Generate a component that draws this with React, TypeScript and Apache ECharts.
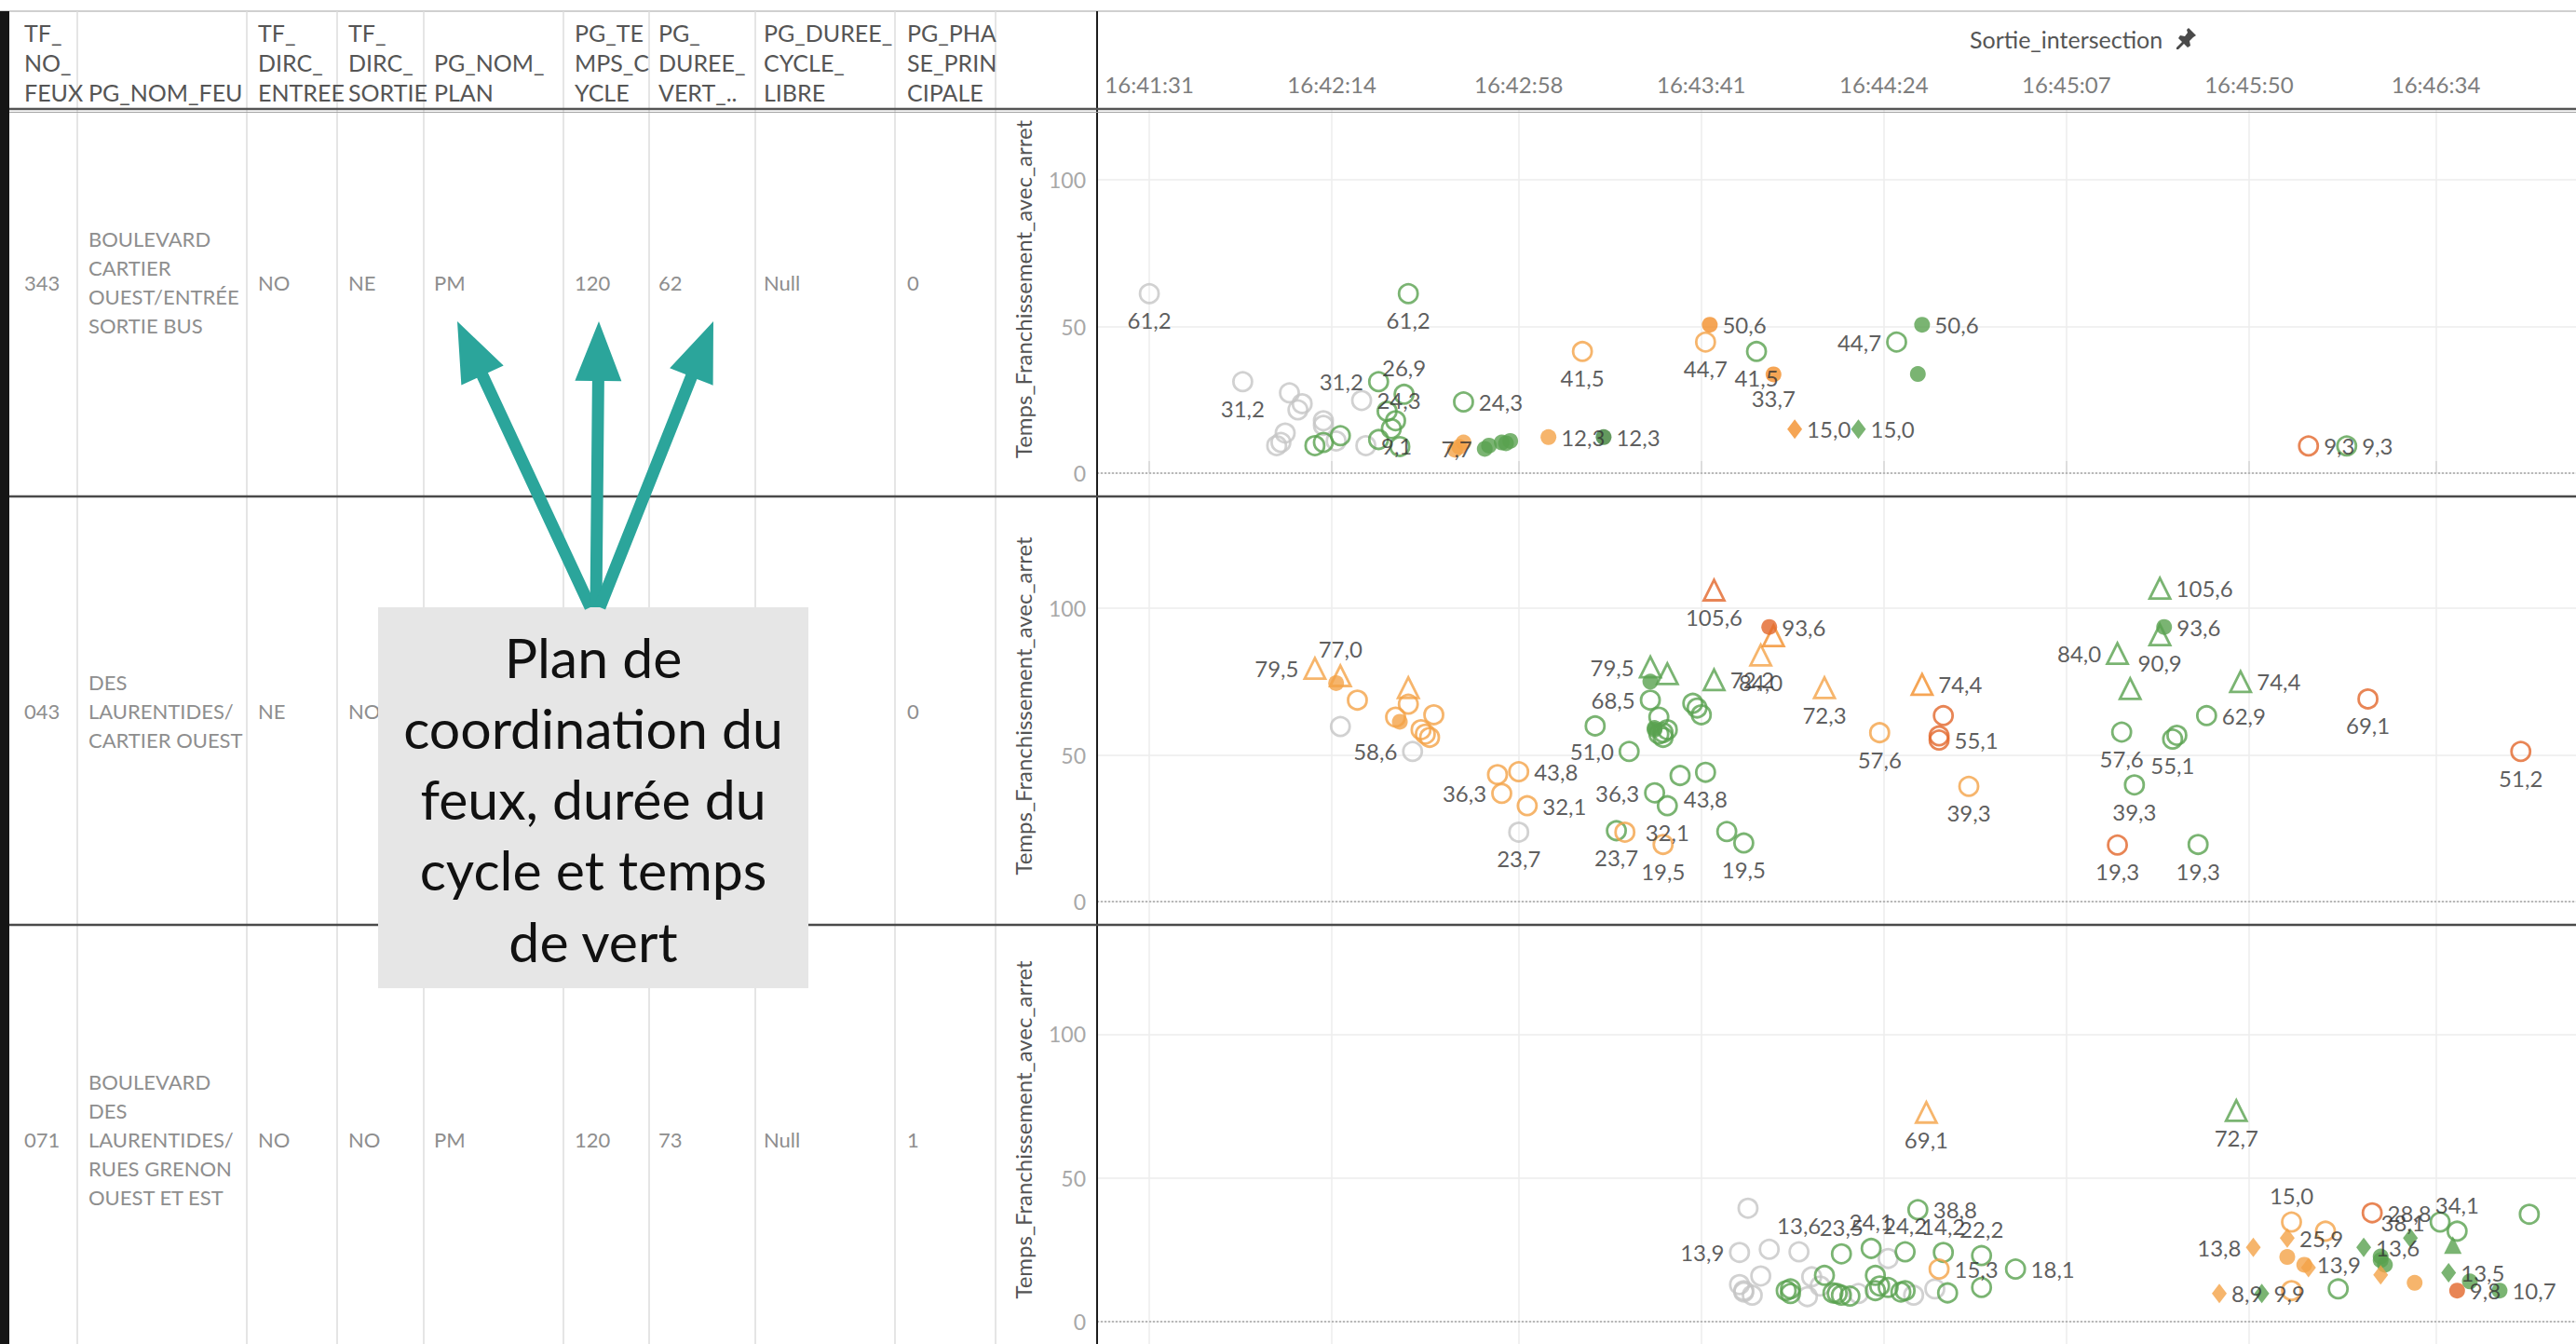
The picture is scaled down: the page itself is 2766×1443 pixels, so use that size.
import React, { useEffect, useRef } from "react";
import * as echarts from "echarts";

// ---------------- DATA ----------------
const X_TICKS = ["16:41:31", "16:42:14", "16:42:58", "16:43:41", "16:44:24", "16:45:07", "16:45:50", "16:46:34"];
const Y_TICKS = [0, 50, 100];
const X_NAME = "Sortie_intersection";
const Y_NAME = "Temps_Franchissement_avec_arret";

const HEADERS = [
  ["TF_", "NO_", "FEUX"],
  ["PG_NOM_FEU"],
  ["TF_", "DIRC_", "ENTREE"],
  ["TF_", "DIRC_", "SORTIE"],
  ["PG_NOM_", "PLAN"],
  ["PG_TE", "MPS_C", "YCLE"],
  ["PG_", "DUREE_", "VERT_.."],
  ["PG_DUREE_", "CYCLE_", "LIBRE"],
  ["PG_PHA", "SE_PRIN", "CIPALE"],
];
const TF_NO_FEUX = ["343", "043", "071"];
const PG_NOM_FEU = [
  ["BOULEVARD", "CARTIER", "OUEST/ENTRÉE", "SORTIE BUS"],
  ["DES", "LAURENTIDES/", "CARTIER OUEST"],
  ["BOULEVARD", "DES", "LAURENTIDES/", "RUES GRENON", "OUEST ET EST"],
];
const TF_DIRC_ENTREE = ["NO", "NE", "NO"];
const TF_DIRC_SORTIE = ["NE", "NO", "NO"];
const PG_NOM_PLAN = ["PM", "", "PM"];
const PG_TEMPS_CYCLE = ["120", "", "120"];
const PG_DUREE_VERT = ["62", "", "73"];
const PG_DUREE_CYCLE_LIBRE = ["Null", "", "Null"];
const PG_PHASE_PRINCIPALE = ["0", "0", "1"];

const NOTE_LINES = ["Plan de", "coordination du", "feux, durée du", "cycle et temps", "de vert"];

type Pt = [string, number, string?, string?];

// Row 1 : 343
const R1_GRAY_O: Pt[] = [
  ["16:41:31", 61.2, "61,2", "b"], ["16:41:53", 31.2, "31,2", "b"], ["16:42:04", 27.4], ["16:42:07", 23.7],
  ["16:42:06", 21.6], ["16:42:12", 17.9], ["16:42:12", 16.3], ["16:42:03", 13.7], ["16:42:02", 10.5],
  ["16:42:01", 9.4], ["16:42:15", 11.0], ["16:42:21", 24.8, "24,3", "r"], ["16:42:22", 9.4, "9,1", "r"],
];
const R1_GREEN_O: Pt[] = [
  ["16:42:32", 61.2, "61,2", "b"], ["16:42:25", 31.2, "31,2", "l"], ["16:42:31", 26.9, "26,9", "t"],
  ["16:42:27", 21.1], ["16:42:29", 17.9], ["16:42:28", 15.2], ["16:42:25", 11.5], ["16:42:30", 9.1],
  ["16:42:10", 9.4], ["16:42:12", 10.5], ["16:42:16", 12.8], ["16:42:45", 24.3, "24,3", "r"],
  ["16:43:54", 41.5, "41,5", "b"], ["16:44:27", 44.7, "44,7", "l"], ["16:46:13", 9.3, "9,3", "r"],
];
const R1_GREEN_F: Pt[] = [
  ["16:42:50", 8.3, "7,7", "l"], ["16:42:51", 9.4], ["16:42:54", 10.5], ["16:42:56", 11.0], ["16:42:55", 10.2],
  ["16:44:33", 50.6, "50,6", "r"], ["16:44:32", 33.8],
];
const R1_GREEN_DK_F: Pt[] = [["16:43:18", 12.3, "12,3", "r"]];
const R1_GREEN_DIA: Pt[] = [["16:44:18", 15.0, "15,0", "r"]];
const R1_LORANGE_O: Pt[] = [["16:43:13", 41.5, "41,5", "b"], ["16:43:42", 44.7, "44,7", "b"]];
const R1_LORANGE_F: Pt[] = [["16:42:44", 9.0], ["16:42:45", 10.5], ["16:42:43", 8.0], ["16:43:05", 12.3, "12,3", "r"]];
const R1_ORANGE_F: Pt[] = [["16:43:43", 50.6, "50,6", "r"], ["16:43:58", 33.7, "33,7", "b"]];
const R1_ORANGE_DIA: Pt[] = [["16:44:03", 15.0, "15,0", "r"]];
const R1_DORANGE_O: Pt[] = [["16:46:04", 9.3, "9,3", "r"]];

// Row 2 : 043
const R2_GRAY_O: Pt[] = [["16:42:16", 59.7], ["16:42:33", 51.2, "58,6", "l"], ["16:42:58", 23.7, "23,7", "b"]];
const R2_LORANGE_TRI_O: Pt[] = [
  ["16:42:10", 79.5, "79,5", "l"], ["16:42:16", 77.0, "77,0", "t"], ["16:42:32", 72.9],
  ["16:43:55", 84.0, "84,0", "b"], ["16:44:10", 72.9, "72,3", "b"],
];
const R2_ORANGE_TRI_O: Pt[] = [["16:43:58", 90.6], ["16:44:33", 74.0, "74,4", "r"]];
const R2_DORANGE_TRI_O: Pt[] = [["16:43:44", 106.2, "105,6", "b"]];
const R2_LORANGE_F: Pt[] = [["16:42:15", 74.5], ["16:42:30", 61.3]];
const R2_LORANGE_O: Pt[] = [
  ["16:42:20", 68.7], ["16:42:32", 67.3], ["16:42:29", 62.9], ["16:42:38", 63.7], ["16:42:35", 58.6],
  ["16:42:36", 57.1], ["16:42:37", 56.0], ["16:42:53", 43.3], ["16:42:58", 44.3, "43,8", "r"],
  ["16:42:54", 36.9, "36,3", "l"], ["16:43:00", 32.7, "32,1", "r"], ["16:43:23", 23.7],
  ["16:43:32", 19.5, "19,5", "b"], ["16:44:23", 57.6, "57,6", "b"], ["16:44:44", 39.3, "39,3", "b"],
];
const R2_DORANGE_O: Pt[] = [
  ["16:44:38", 63.4], ["16:44:37", 56.5], ["16:44:37", 55.1, "55,1", "r"], ["16:45:19", 19.3, "19,3", "b"],
  ["16:46:18", 69.1, "69,1", "b"], ["16:46:54", 51.2, "51,2", "b"],
];
const R2_DORANGE_F: Pt[] = [["16:43:57", 93.6, "93,6", "r"]];
const R2_GREEN_TRI_O: Pt[] = [
  ["16:43:29", 80.0, "79,5", "l"], ["16:43:33", 77.7], ["16:43:44", 75.6, "72,2", "r"],
  ["16:45:29", 106.8, "105,6", "r"], ["16:45:29", 90.9, "90,9", "b"], ["16:45:19", 84.6, "84,0", "l"],
  ["16:45:22", 72.6], ["16:45:48", 75.0, "74,4", "r"],
];
const R2_GREEN_F: Pt[] = [["16:43:29", 75.0], ["16:43:30", 59.2], ["16:43:30", 58.6], ["16:45:30", 93.6, "93,6", "r"]];
const R2_GREEN_O: Pt[] = [
  ["16:43:16", 59.9], ["16:43:24", 51.2, "51,0", "l"], ["16:43:29", 68.7, "68,5", "l"], ["16:43:31", 62.9],
  ["16:43:32", 57.6], ["16:43:33", 58.6], ["16:43:32", 56.0], ["16:43:31", 57.1], ["16:43:39", 67.6],
  ["16:43:41", 63.7], ["16:43:40", 66.0], ["16:43:30", 37.1, "36,3", "l"], ["16:43:33", 32.7, "32,1", "b"],
  ["16:43:36", 43.0], ["16:43:42", 44.1, "43,8", "b"], ["16:43:21", 24.2, "23,7", "b"], ["16:43:47", 23.9],
  ["16:43:51", 20.0, "19,5", "b"], ["16:45:40", 63.4, "62,9", "r"], ["16:45:20", 57.8, "57,6", "b"],
  ["16:45:32", 55.4, "55,1", "b"], ["16:45:33", 56.7], ["16:45:23", 39.8, "39,3", "b"], ["16:45:38", 19.5, "19,3", "b"],
];

// Row 3 : 071
const R3_GRAY_O: Pt[] = [
  ["16:43:52", 39.4], ["16:43:50", 24.0, "13,9", "l"], ["16:43:57", 25.1], ["16:44:04", 24.2, "13,6", "t"],
  ["16:43:55", 15.8], ["16:43:50", 12.8], ["16:43:51", 10.2], ["16:43:53", 9.1], ["16:43:51", 10.7],
  ["16:44:07", 15.5], ["16:44:06", 8.6], ["16:44:09", 12.3], ["16:44:18", 9.7], ["16:44:25", 21.9],
  ["16:44:31", 9.1], ["16:44:36", 11.3],
];
const R3_GREEN_O: Pt[] = [
  ["16:44:01", 10.7], ["16:44:02", 9.7], ["16:44:02", 11.3], ["16:44:14", 23.5, "23,5", "t"], ["16:44:10", 16.0],
  ["16:44:12", 9.9], ["16:44:13", 9.7], ["16:44:14", 9.1], ["16:44:16", 8.8], ["16:44:21", 25.4, "24,1", "t"],
  ["16:44:22", 16.0], ["16:44:22", 10.7], ["16:44:23", 12.3], ["16:44:25", 11.8], ["16:44:28", 10.2],
  ["16:44:29", 10.7], ["16:44:29", 24.2, "24,2", "t"], ["16:44:32", 38.9, "38,8", "r"], ["16:44:38", 24.0, "14,2", "t"],
  ["16:44:39", 9.9], ["16:44:47", 22.9, "22,2", "t"], ["16:44:47", 11.8], ["16:44:55", 18.2, "18,1", "r"],
  ["16:46:11", 11.3], ["16:46:35", 34.6, "38,1", "l"], ["16:46:39", 31.4, "34,1", "t"], ["16:46:56", 37.3],
];
const R3_LORANGE_O: Pt[] = [["16:44:37", 18.2, "15,3", "r"], ["16:46:00", 34.6, "15,0", "t"], ["16:46:08", 31.4], ["16:46:00", 10.7]];
const R3_DORANGE_O: Pt[] = [["16:46:19", 37.8, "28,8", "r"]];
const R3_LORANGE_TRI_O: Pt[] = [["16:44:34", 72.8, "69,1", "b"]];
const R3_GREEN_TRI_O: Pt[] = [["16:45:47", 73.4, "72,7", "b"]];
const R3_GREEN_TRI_F: Pt[] = [["16:46:38", 26.6]];
const R3_LORANGE_DIA: Pt[] = [
  ["16:45:43", 9.7, "8,9", "r"], ["16:45:51", 25.8, "13,8", "l"], ["16:45:59", 29.0, "25,9", "r"],
  ["16:46:04", 18.7], ["16:46:21", 16.2],
];
const R3_GREEN_DIA: Pt[] = [["16:45:53", 9.7, "9,9", "r"], ["16:46:17", 25.8, "13,6", "r"], ["16:46:28", 29.0], ["16:46:37", 16.9, "13,5", "r"]];
const R3_LORANGE_F: Pt[] = [["16:45:59", 22.4], ["16:46:03", 19.7, "13,9", "r"], ["16:46:29", 13.4]];
const R3_DORANGE_F: Pt[] = [["16:46:39", 10.7, "9,8", "r"]];
const R3_GREEN_F: Pt[] = [["16:46:21", 22.6], ["16:46:22", 19.7], ["16:46:21", 21.3], ["16:46:42", 13.9], ["16:46:49", 10.7, "10,7", "r"]];

const ROW_DATA: Record<string, Pt[]>[] = [
  { grayO: R1_GRAY_O, greenO: R1_GREEN_O, greenF: R1_GREEN_F, greenDkF: R1_GREEN_DK_F, greenDia: R1_GREEN_DIA,
    lorangeO: R1_LORANGE_O, lorangeF: R1_LORANGE_F, orangeF: R1_ORANGE_F, orangeDia: R1_ORANGE_DIA, dorangeO: R1_DORANGE_O },
  { grayO: R2_GRAY_O, greenO: R2_GREEN_O, greenF: R2_GREEN_F, greenTriO: R2_GREEN_TRI_O, lorangeO: R2_LORANGE_O,
    lorangeF: R2_LORANGE_F, lorangeTriO: R2_LORANGE_TRI_O, orangeTriO: R2_ORANGE_TRI_O, dorangeO: R2_DORANGE_O,
    dorangeF: R2_DORANGE_F, dorangeTriO: R2_DORANGE_TRI_O },
  { grayO: R3_GRAY_O, greenO: R3_GREEN_O, greenF: R3_GREEN_F, greenTriO: R3_GREEN_TRI_O, greenTriF: R3_GREEN_TRI_F,
    greenDia: R3_GREEN_DIA, lorangeO: R3_LORANGE_O, lorangeF: R3_LORANGE_F, lorangeTriO: R3_LORANGE_TRI_O,
    lorangeDia: R3_LORANGE_DIA, dorangeO: R3_DORANGE_O, dorangeF: R3_DORANGE_F },
];

// ---------------- STYLE / LAYOUT ----------------
const FONT = "Lato, 'Open Sans', sans-serif";
const GRAY = "#C6C6C6";
const GREEN = "#59A14F";
const GREEN_DK = "#3C7F36";
const LORANGE = "#F4A247";
const ORANGE = "#F28E2B";
const DORANGE = "#E2672A";

const STYLE: Record<string, any> = {
  grayO: { symbol: "circle", size: 20, color: GRAY, hollow: true },
  greenO: { symbol: "circle", size: 20, color: GREEN, hollow: true },
  greenF: { symbol: "circle", size: 17, color: GREEN },
  greenDkF: { symbol: "circle", size: 17, color: GREEN_DK },
  greenTriO: { symbol: "triangle", size: 22, color: GREEN, hollow: true },
  greenTriF: { symbol: "triangle", size: 19, color: GREEN },
  greenDia: { symbol: "diamond", size: [16, 21], color: GREEN },
  lorangeO: { symbol: "circle", size: 20, color: LORANGE, hollow: true },
  lorangeF: { symbol: "circle", size: 17, color: LORANGE },
  lorangeTriO: { symbol: "triangle", size: 22, color: LORANGE, hollow: true },
  lorangeDia: { symbol: "diamond", size: [16, 21], color: LORANGE },
  orangeF: { symbol: "circle", size: 17, color: ORANGE },
  orangeTriO: { symbol: "triangle", size: 22, color: ORANGE, hollow: true },
  orangeDia: { symbol: "diamond", size: [16, 21], color: ORANGE },
  dorangeO: { symbol: "circle", size: 20, color: DORANGE, hollow: true },
  dorangeF: { symbol: "circle", size: 17, color: DORANGE },
  dorangeTriO: { symbol: "triangle", size: 22, color: DORANGE, hollow: true },
};
const POS: Record<string, string> = { b: "bottom", t: "top", l: "left", r: "right" };

const W = 2766;
const H = 1443;
const PLOT_LEFT = 1178;
const GRID_TOPS = [118, 533, 993];
const GRID_HEIGHTS = [415, 460, 460];
const Y_MIN = -7.9;
const Y_MAXES = [123.8, 138.1, 138.1];
const X_MIN = 60078.7; // left edge of the plot (seconds of day)
const X_MAX = 60427.0; // right edge of the plot
const COL_LINES = [83, 265, 362, 455, 605, 697, 811, 961, 1069];
const COL_TEXT_X = [26, 95, 277, 374, 466, 617, 707, 820, 974];
const ROW_CENTERS = [303, 763, 1223];

const toSec = (t: string) => {
  const [h, m, s] = t.split(":").map(Number);
  return h * 3600 + m * 60 + s;
};
const fmtTime = (v: number) => {
  const r = Math.round(v);
  const h = Math.floor(r / 3600);
  const m = Math.floor((r % 3600) / 60);
  const s = r % 60;
  return `${h}:${String(m).padStart(2, "0")}:${String(s).padStart(2, "0")}`;
};

function buildOption() {
  const xTickVals = X_TICKS.map(toSec);

  const series: any[] = [];
  ROW_DATA.forEach((row, i) => {
    let first = true;
    Object.keys(row).forEach((key) => {
      const st = STYLE[key];
      const s: any = {
        type: "scatter",
        xAxisIndex: i,
        yAxisIndex: i,
        silent: true,
        symbol: st.symbol,
        symbolSize: st.size,
        itemStyle: st.hollow
          ? { color: "rgba(255,255,255,0)", borderColor: st.color, borderWidth: 2.8 }
          : { color: st.color },
        label: { show: false, fontSize: 24, color: "#333333", fontFamily: FONT, distance: 5 },
        data: row[key].map(([t, v, lbl, pos]) => {
          const item: any = { value: [toSec(t), v] };
          if (lbl) item.label = { show: true, formatter: lbl, position: POS[pos || "r"] };
          return item;
        }),
      };
      if (first) {
        s.markLine = {
          silent: true,
          symbol: ["none", "none"],
          label: { show: false },
          lineStyle: { type: "dotted", color: "#b8b8b8", width: 2 },
          data: [{ yAxis: 0 }],
        };
        first = false;
      }
      series.push(s);
    });
  });

  // ------- graphic (table, header, annotation) -------
  const g: any[] = [];
  const line = (x1: number, y1: number, x2: number, y2: number, stroke: string, w: number, z = 50) =>
    g.push({ type: "line", z, silent: true, shape: { x1, y1, x2, y2 }, style: { stroke, lineWidth: w } });
  const text = (x: number, y: number, t: string, size: number, fill: string, align = "left", z = 60) =>
    g.push({
      type: "text", z, x, y, silent: true,
      style: { text: t, fill, fontSize: size, fontFamily: FONT, align, verticalAlign: "middle", textAlign: align, textVerticalAlign: "middle" },
    });

  line(0, 12, W, 12, "#d0d0d0", 2);
  g.push({ type: "rect", z: 55, silent: true, shape: { x: 0, y: 12, width: 10, height: H - 12 }, style: { fill: "#151515" } });
  COL_LINES.forEach((x) => line(x, 12, x, H, "#dcdcdc", 1.5));
  line(PLOT_LEFT, 12, PLOT_LEFT, H, "#1c1c1c", 2);
  line(10, 117, W, 117, "#555555", 2.5);
  line(10, 120.5, W, 120.5, "#a0a0a0", 1.2);
  line(10, 533, W, 533, "#4a4a4a", 2.5);
  line(10, 993, W, 993, "#4a4a4a", 2.5);

  HEADERS.forEach((lines, c) => {
    lines.forEach((t, j) => text(COL_TEXT_X[c], 99 - (lines.length - 1 - j) * 32, t, 25, "#555555"));
  });

  const cols = [TF_NO_FEUX, null, TF_DIRC_ENTREE, TF_DIRC_SORTIE, PG_NOM_PLAN, PG_TEMPS_CYCLE, PG_DUREE_VERT, PG_DUREE_CYCLE_LIBRE, PG_PHASE_PRINCIPALE];
  ROW_CENTERS.forEach((cy, r) => {
    cols.forEach((col, c) => {
      if (c === 1) {
        const ls = PG_NOM_FEU[r];
        ls.forEach((t, j) => text(COL_TEXT_X[1], cy + (j - (ls.length - 1) / 2) * 31, t, 22, "#8e8e8e"));
      } else if (col && col[r]) {
        text(COL_TEXT_X[c], cy, col[r], 22, "#8e8e8e");
      }
    });
  });

  text(2115, 42, X_NAME, 25, "#555555");
  const pin = [[14, 0], [22, 8], [19, 10], [15, 14], [16, 19], [13, 21], [9, 17], [3, 23], [1, 23], [1, 21], [7, 15], [3, 11], [5, 8], [10, 9], [13, 5], [12, 2]];
  g.push({ type: "polygon", z: 60, silent: true, shape: { points: pin.map(([x, y]) => [2336 + x, 30 + y]) }, style: { fill: "#4a4a4a" } });

  // annotation box
  g.push({ type: "rect", z: 80, silent: true, shape: { x: 406, y: 652, width: 462, height: 409 }, style: { fill: "#E6E6E6" } });
  NOTE_LINES.forEach((t, j) => text(637, 705 + j * 76.3, t, 59, "#111111", "center", 90));

  const arrow = (sx: number, sy: number, ex: number, ey: number) => {
    const dx = ex - sx, dy = ey - sy;
    const L = Math.hypot(dx, dy);
    const ux = dx / L, uy = dy / L;
    const nx = -uy, ny = ux;
    const sw = 6.5, hw = 25, hl = 64;
    const bx = ex - ux * hl, by = ey - uy * hl;
    const pts = [
      [sx + nx * sw, sy + ny * sw], [bx + nx * sw, by + ny * sw], [bx + nx * hw, by + ny * hw], [ex, ey],
      [bx - nx * hw, by - ny * hw], [bx - nx * sw, by - ny * sw], [sx - nx * sw, sy - ny * sw],
    ];
    g.push({ type: "polygon", z: 85, silent: true, shape: { points: pts }, style: { fill: "#2BA59B" } });
  };
  arrow(634, 652, 491, 345);
  arrow(640, 652, 643, 345);
  arrow(644, 652, 766, 345);

  return {
    animation: false,
    backgroundColor: "#ffffff",
    textStyle: { fontFamily: FONT },
    grid: GRID_TOPS.map((top, i) => ({ left: PLOT_LEFT, width: W - PLOT_LEFT, top, height: GRID_HEIGHTS[i] })),
    xAxis: GRID_TOPS.map((_, i) => ({
      type: "value",
      gridIndex: i,
      min: X_MIN,
      max: X_MAX,
      position: "top",
      axisLine: { show: false },
      axisTick: { show: i === 0, customValues: xTickVals, length: 13, lineStyle: { color: "#d6d6d6", width: 1.5 } },
      axisLabel: { show: i === 0, customValues: xTickVals, formatter: (v: number) => fmtTime(v), margin: 16, color: "#7d7d7d", fontSize: 24, fontFamily: FONT },
      splitLine: { show: true, lineStyle: { color: "#ececec", width: 1.5 } },
    })),
    yAxis: GRID_TOPS.map((_, i) => ({
      type: "value",
      gridIndex: i,
      min: Y_MIN,
      max: Y_MAXES[i],
      name: Y_NAME,
      nameLocation: "middle",
      nameGap: 68,
      nameTextStyle: { fontSize: 24, color: "#555555", fontFamily: FONT, padding: i === 0 ? [0, 0, 0, 30] : [0, 0, 0, 10] },
      axisLine: { show: false },
      axisTick: { show: false, customValues: Y_TICKS },
      axisLabel: { customValues: Y_TICKS, color: "#a8a8a8", fontSize: 23, margin: 12, fontFamily: FONT },
      splitLine: { show: true, lineStyle: { color: "#ececec", width: 1.5 } },
    })),
    series,
    graphic: { elements: g },
  };
}

export default function App() {
  const ref = useRef<HTMLDivElement>(null);
  useEffect(() => {
    document.body.style.margin = "0";
    if (!ref.current) return;
    const chart = echarts.init(ref.current, undefined, { renderer: "svg" });
    chart.setOption(buildOption() as any);
    return () => chart.dispose();
  }, []);
  return <div ref={ref} style={{ position: "absolute", left: 0, top: 0, width: W, height: H }} />;
}
